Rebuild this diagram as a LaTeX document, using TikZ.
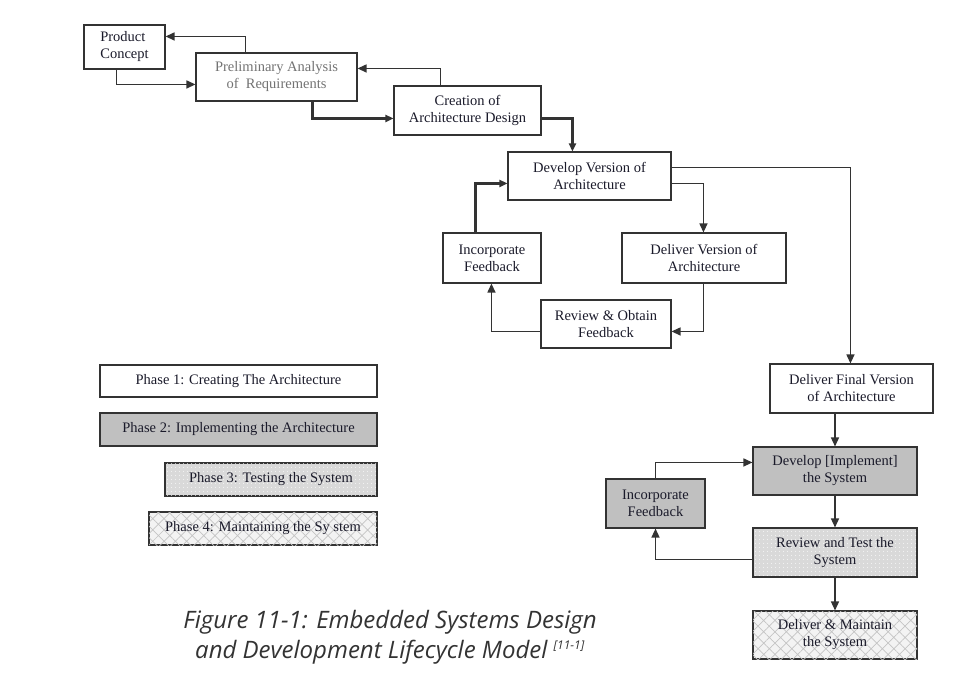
\documentclass[tikz,border=0pt]{standalone}
\usepackage{fontspec}
\setmainfont{Liberation Serif}
\newfontfamily\capfont{Open Sans}
\usetikzlibrary{calc,arrows.meta,patterns.meta}
\definecolor{edge}{HTML}{333333}
\definecolor{txt}{HTML}{1A1A2A}
\definecolor{ph2}{HTML}{C0C0C0}
\definecolor{ph3}{HTML}{D9D9D9}
\definecolor{ph4}{HTML}{F3F3F3}
\definecolor{hatchc}{HTML}{C4C4C4}
\definecolor{capc}{HTML}{333333}
\begin{document}
\begin{tikzpicture}[x=1pt,y=-1pt,
  box/.style={draw=edge,line width=1.1pt,inner sep=0pt,align=center,text=txt,
    font=\fontsize{14.5}{17}\selectfont},
  phaseone/.style={box,fill=white},
  phasetwo/.style={box,fill=ph2},
  phasethree/.style={box,fill=ph3,
    postaction={pattern={Dots[distance=4pt,radius=0.6pt]},pattern color=white}},
  phasefour/.style={box,fill=ph4,
    postaction={pattern={Hatch[angle=45,distance=8pt,line width=0.7pt]},pattern color=hatchc}},
  conn/.style={draw=edge,line width=1.4pt,-{Triangle[length=9pt,width=8pt]}},
  thickconn/.style={conn,line width=2.4pt,-{Triangle[length=8pt,width=7pt]}}
]
\useasboundingbox (0,0) rectangle (971,694);

% Phase 1 boxes
\node[phaseone,minimum width=81pt,minimum height=44pt,align=left] (pc) at (124.5,47) {Product\\Concept};
\node[phaseone,minimum width=161pt,minimum height=48pt,text=gray!90!black] (pa) at (276.5,77) {Preliminary Analysis\\of\ \ Requirements};
\node[phaseone,minimum width=147pt,minimum height=49pt] (ca) at (467.5,110.5) {Creation of\\Architecture Design};
\node[phaseone,minimum width=163pt,minimum height=48pt] (dv) at (589.5,176) {Develop Version of\\Architecture};
\node[phaseone,minimum width=98pt,minimum height=50pt] (if1) at (492,258) {Incorporate\\Feedback};
\node[phaseone,minimum width=164pt,minimum height=50pt] (dlv) at (704,258) {Deliver Version of\\Architecture};
\node[phaseone,minimum width=130pt,minimum height=48pt] (ro) at (606,324) {Review \& Obtain\\Feedback};
\node[phaseone,minimum width=163pt,minimum height=49pt] (df) at (851.5,388.5) {Deliver Final Version\\of Architecture};

% Later phases
\node[phasetwo,minimum width=164pt,minimum height=48pt] (ds) at (835,471) {Develop [Implement]\\the System};
\node[phasetwo,minimum width=99pt,minimum height=49pt] (if2) at (655.5,503.5) {Incorporate\\Feedback};
\node[phasethree,minimum width=164pt,minimum height=49pt] (rt) at (835,552.5) {Review and Test the\\System};
\node[phasefour,minimum width=164pt,minimum height=48pt] (dm) at (835,635) {Deliver \& Maintain\\the System};

% Legend
\node[phaseone,minimum width=277pt,minimum height=32pt] (l1) at (238.5,381) {Phase 1: Creating The Architecture};
\node[phasetwo,minimum width=277pt,minimum height=33pt] (l2) at (238.5,429.5) {Phase 2: Implementing the Architecture};
\node[phasethree,minimum width=212pt,minimum height=33pt] (l3) at (271,479.5) {Phase 3: Testing the System};
\node[phasefour,minimum width=228pt,minimum height=33pt] (l4) at (263,528.5) {Phase 4: Maintaining the Sy stem};

% Connectors
\draw[conn] ($(pa.north west)+(50,0)$) |- ($(pc.north east)+(0,12)$);
\draw[conn] ($(pc.south west)+(33,0)$) |- ($(pa.north west)+(0,32)$);
\draw[conn] ($(ca.north west)+(47,0)$) |- ($(pa.north east)+(0,16)$);
\draw[thickconn] ($(pa.south west)+(117,0)$) |- ($(ca.north west)+(0,33)$);
\draw[thickconn] ($(ca.north east)+(0,33)$) -| ($(dv.north west)+(65,0)$);
\draw[conn] ($(dv.north east)+(0,16)$) -| ($(df.north west)+(81,0)$);
\draw[conn] ($(dv.north east)+(0,32)$) -| ($(dlv.north west)+(82,0)$);
\draw[conn] ($(dlv.south west)+(82,0)$) |- ($(ro.north east)+(0,32)$);
\draw[conn] ($(ro.north west)+(0,32)$) -| ($(if1.south west)+(49,0)$);
\draw[thickconn] ($(if1.north west)+(33,0)$) |- ($(dv.north west)+(0,32)$);
\draw[conn] (df.south -| ds.north) -- (ds.north);
\draw[conn] (ds.south) -- (rt.north);
\draw[conn] (rt.south) -- (dm.north);
\draw[conn] ($(rt.north west)+(0,32)$) -| (if2.south);
\draw[conn] (if2.north) |- ($(ds.north west)+(0,16)$);

% Caption
\node[font=\capfont\itshape\fontsize{24}{30}\selectfont,text=capc,align=center] (cap) at (390,637)
  {Figure 11-1: Embedded Systems Design\\and Development Lifecycle Model \textsuperscript{\fontsize{12}{12}\selectfont [11-1]}};
\end{tikzpicture}
\end{document}
